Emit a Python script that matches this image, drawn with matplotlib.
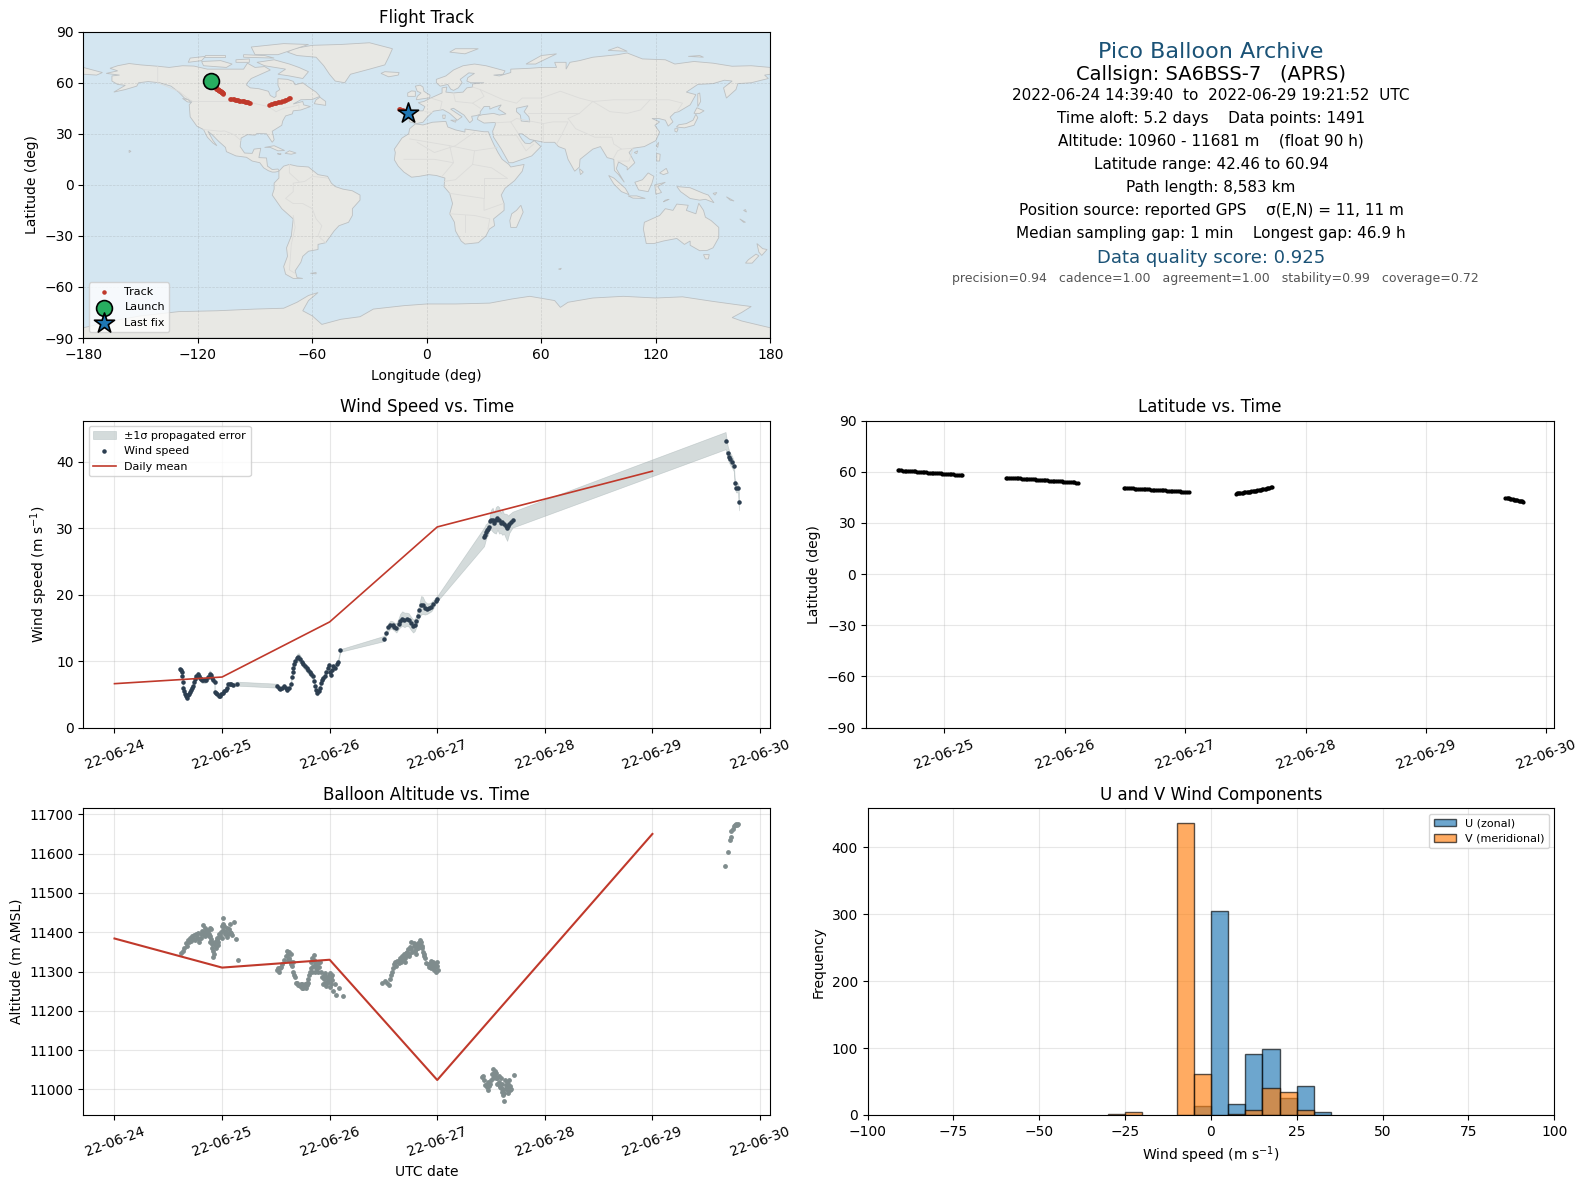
import datetime as dt
import matplotlib
matplotlib.use("Agg")
import matplotlib.dates as mdates
import matplotlib.pyplot as plt
from matplotlib.patches import Polygon
import numpy as np

W, H = 1588, 1189
BASE = mdates.date2num(dt.datetime(2022, 6, 24))

# ---- colours
RED = "#c0392b"
NAVY = "#2c3e50"
GREY = "#7f8c8d"
TITLE_BLUE = "#1a5276"
OCEAN = "#d4e6f1"
LAND = "#e8e8e4"

# ---- wind speed: days after 06-24 00:00, m/s, 1 sigma
wind_seg1 = [(.608, 8.85, .3), (.62, 8.6, .3), (.63, 8.4, .3), (.63, 7.7, .3), (.634, 6.8, .3), (.637, 6, .3),
             (.645, 5.5, .3), (.652, 5, .3), (.662, 4.7, .3), (.672, 4.5, .3), (.682, 4.9, .3), (.692, 5.1, .3),
             (.702, 5.3, .3), (.712, 5.7, .3), (.722, 6, .3), (.732, 6.3, .35), (.742, 6.8, .35), (.752, 7.3, .35),
             (.762, 7.7, .4), (.772, 8, .4), (.782, 7.8, .4), (.792, 7.4, .4), (.802, 7.3, .4), (.812, 7.1, .4),
             (.825, 7.1, .4), (.84, 7.1, .4), (.855, 7.2, .4), (.87, 7.6, .5), (.885, 8.1, .5), (.895, 7.9, .5),
             (.905, 7.5, .4), (.918, 7.2, .4), (.93, 6.8, .3), (.93, 5.4, .3), (.94, 5.2, .3), (.955, 5, .3),
             (.968, 4.8, .3), (.98, 4.7, .3), (.992, 5, .3), (1.005, 5.2, .3), (1.02, 5.5, .3), (1.035, 5.7, .3),
             (1.048, 5.9, .3), (1.054, 6.5, .3), (1.07, 6.6, .3), (1.085, 6.5, .3), (1.10, 6.4, .3), (1.14, 6.6, .3)]
wind_seg2 = [(1.513, 6.3, .3), (1.525, 6, .25), (1.54, 5.8, .25), (1.555, 5.9, .25), (1.575, 6.2, .25), (1.59, 5.9, .25),
             (1.606, 5.6, .25), (1.622, 6, .3), (1.64, 6.5, .3), (1.647, 7.6, .4), (1.655, 8.3, .4), (1.662, 9, .5),
             (1.672, 9.6, .5), (1.682, 10, .6), (1.695, 10.4, .6), (1.71, 10.6, .6), (1.725, 10.3, .6), (1.74, 9.9, .5),
             (1.755, 9.5, .5), (1.77, 9.2, .5), (1.785, 8.9, .5), (1.80, 8.6, .5), (1.815, 8.3, .5), (1.83, 8, .5),
             (1.845, 7.7, .5), (1.855, 7, .4), (1.865, 6.3, .4), (1.875, 5.6, .4), (1.885, 5.2, .4), (1.897, 5.5, .4),
             (1.907, 6, .4), (1.915, 6.7, .4), (1.925, 7.2, .4), (1.94, 7.4, .4), (1.955, 7.8, .4), (1.968, 8.4, .4),
             (1.98, 9, .4), (1.992, 9.4, .4), (2.003, 8.3, .4), (2.012, 7.9, .4), (2.02, 8.7, .4), (2.035, 9.2, .4),
             (2.05, 9, .3), (2.065, 9.5, .3), (2.075, 9.8, .3), (2.10, 11.6, .2)]
wind_seg3 = [(2.505, 13.4, .4), (2.527, 14.3, .4), (2.545, 15.1, .6), (2.565, 15.5, .6), (2.585, 15.4, .6),
             (2.60, 15.2, .6), (2.62, 15, .7), (2.64, 15.6, .8), (2.655, 16.1, 1), (2.675, 16.4, 1.1), (2.695, 16.2, 1.1),
             (2.715, 16.3, 1), (2.735, 16.2, 1), (2.755, 15.7, 1), (2.775, 15.3, 1), (2.79, 15.4, .9),
             (2.805, 16, .9), (2.82, 16.8, .9), (2.835, 17.7, 1.1), (2.85, 18.4, 1.4), (2.865, 18.4, 1.3), (2.885, 18, 1),
             (2.905, 17.9, .8), (2.925, 18, .7), (2.945, 18.2, .7), (2.965, 18.6, .6), (2.985, 19.1, .5), (3.0, 19.4, .4)]
wind_seg4 = [(3.435, 28.7, 1.4), (3.442, 29, 1.3), (3.45, 29.4, 1.2), (3.46, 29.7, 1), (3.47, 29.9, 1), (3.48, 30.2, .8),
             (3.49, 31.1, 1), (3.50, 31.3, 1.5), (3.515, 31.3, 1.8), (3.53, 30.8, 1.5), (3.545, 31.2, 2), (3.56, 31.6, 1.8),
             (3.575, 31.2, 2), (3.59, 30.8, 1.5), (3.605, 30.9, 1.9), (3.62, 30.7, 1.5), (3.635, 30.4, 1.8), (3.65, 30.1, 2),
             (3.66, 30.3, 1.6), (3.67, 30.7, 1.4), (3.685, 31, 1.3), (3.70, 31.3, 1.2)]
wind_seg5 = [(5.68, 43.2, 1.3), (5.70, 41.4, 1), (5.715, 40.7, .9), (5.725, 40.4, .9), (5.74, 40, .9), (5.756, 39.4, .8),
             (5.765, 36.8, .8), (5.778, 36.1, .7), (5.795, 36.1, .7), (5.805, 34, 1.3)]

# ---- daily means (there is no 06-28 value)
mean_days = [0, 1, 2, 3, 5]
mean_wind = [6.6, 7.6, 15.9, 30.2, 38.6]
mean_alt = [11384, 11310, 11330, 11024, 11650]

# ---- track: days, latitude, longitude
track_seg1 = [(.614, 60.94, -113.2), (.64, 60.8, -113.0), (.67, 60.7, -112.9), (.70, 60.55, -112.7), (.73, 60.4, -112.6),
              (.76, 60.2, -112.4), (.79, 60.05, -112.3), (.82, 59.9, -112.1), (.85, 59.7, -112.0), (.88, 59.55, -111.8),
              (.91, 59.4, -111.7), (.94, 59.2, -111.5), (.97, 59.05, -111.4), (1.0, 58.9, -111.3), (1.03, 58.75, -111.1),
              (1.06, 58.6, -111.0), (1.09, 58.4, -110.9), (1.12, 58.2, -110.8), (1.15, 58.0, -110.7)]
track_seg2 = [(1.51, 56.4, -110.4), (1.54, 56.4, -110.2), (1.57, 56.3, -110.0), (1.60, 56.25, -109.8), (1.63, 56.1, -109.6),
              (1.66, 56.0, -109.4), (1.69, 55.85, -109.2), (1.72, 55.7, -109.0), (1.75, 55.55, -108.9), (1.78, 55.4, -108.7),
              (1.81, 55.25, -108.5), (1.84, 55.1, -108.3), (1.87, 54.9, -108.1), (1.90, 54.75, -107.9), (1.93, 54.6, -107.7),
              (1.96, 54.45, -107.5), (1.99, 54.3, -107.3), (2.02, 54.15, -107.1), (2.05, 54.0, -106.9), (2.08, 53.75, -106.8),
              (2.11, 53.55, -106.6)]
track_seg3 = [(2.49, 50.5, -103.0), (2.52, 50.45, -102.4), (2.55, 50.3, -101.8), (2.58, 50.2, -101.2), (2.61, 50.1, -100.6),
              (2.64, 49.95, -100.0), (2.67, 49.8, -99.5), (2.70, 49.65, -98.9), (2.73, 49.5, -98.3), (2.76, 49.4, -97.7),
              (2.79, 49.3, -97.1), (2.82, 49.15, -96.5), (2.85, 49.0, -96.0), (2.88, 48.85, -95.4), (2.91, 48.75, -94.8),
              (2.94, 48.55, -94.2), (2.97, 48.4, -93.6), (3.0, 48.2, -93.2), (3.03, 48.0, -92.8)]
track_seg4 = [(3.42, 47.2, -82.5), (3.44, 47.4, -81.8), (3.46, 47.6, -81.0), (3.48, 47.85, -80.2), (3.50, 48.0, -79.5),
              (3.52, 48.2, -78.8), (3.54, 48.45, -78.0), (3.56, 48.7, -77.2), (3.58, 48.9, -76.5), (3.60, 49.15, -75.8),
              (3.62, 49.4, -75.0), (3.64, 49.7, -74.3), (3.66, 50.0, -73.6), (3.68, 50.4, -72.9), (3.70, 50.8, -72.2),
              (3.72, 51.1, -71.6)]
track_seg5 = [(5.66, 44.8, -14.5), (5.68, 44.6, -14.0), (5.70, 44.2, -13.2), (5.72, 43.9, -12.5), (5.74, 43.6, -11.7),
              (5.76, 43.2, -11.0), (5.78, 42.9, -10.4), (5.80, 42.6, -9.9), (5.81, 42.46, -9.6)]

# extra latitude fixes, only shown in the latitude panel
lat_extra_days = [.627, .655, .685, .715, .745, .775, .805, .835, .865, .895, .925, .955, .985, 1.015, 1.045, 1.075, 1.105, 1.135,
                  1.525, 1.555, 1.585, 1.615, 1.645, 1.675, 1.705, 1.735, 1.765, 1.795, 1.825, 1.855, 1.885, 1.915, 1.945, 1.975,
                  2.005, 2.035, 2.065, 2.095,
                  2.505, 2.535, 2.565, 2.595, 2.625, 2.655, 2.685, 2.715, 2.745, 2.775, 2.805, 2.835, 2.865, 2.895, 2.925, 2.955,
                  2.985, 3.015,
                  3.43, 3.45, 3.47, 3.49, 3.51, 3.53, 3.55, 3.57, 3.59, 3.61, 3.63, 3.65, 3.67, 3.69, 3.71,
                  5.67, 5.69, 5.71, 5.73, 5.75, 5.77, 5.79]
lat_extra = [60.9, 60.7, 60.65, 60.5, 60.35, 60.1, 60.0, 59.85, 59.6, 59.5, 59.3, 59.15, 59.0, 58.8, 58.7, 58.5, 58.3, 58.1,
             56.5, 56.35, 56.3, 56.15, 56.05, 55.9, 55.8, 55.6, 55.5, 55.3, 55.2, 55.0, 54.85, 54.7, 54.5, 54.4,
             54.2, 54.1, 53.9, 53.65,
             50.5, 50.4, 50.25, 50.15, 50.0, 49.9, 49.7, 49.6, 49.45, 49.35, 49.2, 49.1, 48.9, 48.8, 48.65, 48.5,
             48.3, 48.1,
             47.3, 47.5, 47.7, 47.95, 48.1, 48.3, 48.6, 48.8, 49.0, 49.3, 49.55, 49.85, 50.2, 50.6, 50.95,
             44.7, 44.4, 44.05, 43.75, 43.4, 43.05, 42.75]

# ---- altitude scatter: days, metres
alt_days_1 = [.62, .635, .65, .66, .67, .68, .69, .70, .71, .72, .73, .74, .75, .76, .77, .78, .79, .80, .81, .82, .825,
              .83, .84, .85, .86, .87, .875, .885, .89, .90, .90, .905, .91, .915, .92, .93, .94, .945, .955, .965, .975,
              .985, .995, 1.006, 1.012, 1.02, 1.03, 1.04, 1.05, 1.06, 1.07, 1.08, 1.09, 1.11, 1.13, 1.145]
alt_m_1 = [11346, 11352, 11361, 11372, 11365, 11380, 11374, 11386, 11378, 11390, 11384, 11392, 11380, 11395, 11388, 11398,
           11384, 11396, 11402, 11400, 11418, 11392, 11410, 11400, 11395, 11402, 11396, 11412, 11390, 11409, 11384, 11375,
           11361, 11337, 11352, 11367, 11372, 11360, 11380, 11375, 11388, 11392, 11385, 11437, 11422, 11415, 11395, 11401,
           11388, 11408, 11422, 11398, 11392, 11425, 11384, 11330]
alt_days_2 = [1.51, 1.52, 1.53, 1.54, 1.55, 1.56, 1.58, 1.59, 1.60, 1.61, 1.62, 1.63, 1.64, 1.65, 1.66, 1.67, 1.68, 1.69,
              1.70, 1.71, 1.72, 1.73, 1.74, 1.75, 1.76, 1.77, 1.78, 1.79, 1.80, 1.81, 1.82, 1.83, 1.84, 1.85, 1.86, 1.87,
              1.88, 1.89, 1.90, 1.91, 1.92, 1.93, 1.94, 1.95, 1.96, 1.97, 1.98, 1.99, 2.0, 2.01, 2.02, 2.03, 2.05, 2.06,
              2.09, 2.12]
alt_m_2 = [11305, 11310, 11300, 11308, 11312, 11318, 11330, 11340, 11352, 11345, 11335, 11328, 11320, 11315, 11300, 11290,
           11285, 11272, 11270, 11265, 11262, 11268, 11258, 11266, 11260, 11268, 11258, 11270, 11280, 11290, 11300, 11310,
           11335, 11342, 11325, 11318, 11310, 11300, 11312, 11325, 11300, 11285, 11268, 11280, 11270, 11262, 11275, 11290,
           11260, 11285, 11278, 11250, 11268, 11240, 11258, 11238]
alt_days_3 = [2.49, 2.51, 2.53, 2.55, 2.56, 2.57, 2.58, 2.59, 2.60, 2.61, 2.62, 2.63, 2.64, 2.65, 2.66, 2.67, 2.68, 2.69,
              2.70, 2.71, 2.72, 2.73, 2.74, 2.75, 2.76, 2.77, 2.78, 2.79, 2.80, 2.81, 2.82, 2.83, 2.84, 2.85, 2.86, 2.87,
              2.88, 2.89, 2.90, 2.91, 2.92, 2.93, 2.94, 2.95, 2.96, 2.97, 2.98, 2.99, 3.0, 3.01]
alt_m_3 = [11272, 11275, 11270, 11266, 11280, 11292, 11300, 11308, 11318, 11325, 11315, 11328, 11322, 11335, 11325, 11340,
           11330, 11345, 11335, 11348, 11342, 11358, 11345, 11362, 11375, 11350, 11365, 11352, 11358, 11368, 11372, 11362,
           11370, 11375, 11360, 11350, 11345, 11335, 11322, 11318, 11312, 11320, 11328, 11315, 11318, 11305, 11312, 11300,
           11315, 11305]
alt_days_4 = [3.42, 3.435, 3.45, 3.47, 3.48, 3.49, 3.50, 3.52, 3.53, 3.54, 3.55, 3.56, 3.575, 3.585, 3.59, 3.60, 3.61, 3.62,
              3.63, 3.64, 3.65, 3.66, 3.67, 3.68, 3.71]
alt_m_4 = [11032, 11024, 11011, 10998, 11008, 11015, 11025, 11051, 11042, 11035, 11041, 11030, 11020, 11010, 11003, 10994,
           10985, 10971, 11024, 11012, 11000, 11015, 11005, 10998, 11036]
alt_days_5 = [5.676, 5.70, 5.72, 5.727, 5.735, 5.745, 5.755, 5.765, 5.775, 5.785, 5.797]
alt_m_5 = [11568, 11605, 11635, 11642, 11658, 11662, 11670, 11672, 11675, 11674, 11676]
alt_days_6 = [.79, .80, .84, .86, .88, .89, .91, .925, .935, .95, .96, .97, .99, 1.0, 1.01, 1.025, 1.045, 1.055, 1.075,
              1.74, 1.745, 1.755, 1.765, 1.775, 1.785, 1.795, 1.83, 1.835, 1.845, 1.855, 1.865, 1.875, 1.895, 1.945, 1.955,
              1.965, 1.975, 1.985, 2.0, 2.005, 2.015, 2.025, 1.64, 1.655, 1.625, 1.615,
              2.65, 2.68, 2.70, 2.72, 2.74, 2.76, 2.78, 2.80, 2.82, 2.84, 2.86, 2.88, 2.94, 2.96, 2.975, 2.995,
              3.43, 3.44, 3.46, 3.475, 3.51, 3.515, 3.525, 3.535, 3.55, 3.56, 3.57, 3.58, 3.595, 3.605, 3.615, 3.625, 3.635,
              3.645, 3.655, 3.665, 3.675, 3.685, 3.645]
alt_m_6 = [11375, 11385, 11390, 11405, 11390, 11375, 11370, 11345, 11375, 11385, 11368, 11395, 11400, 11415, 11405, 11400,
           11410, 11395, 11400,
           11268, 11262, 11258, 11264, 11262, 11266, 11272, 11325, 11300, 11315, 11330, 11300, 11308, 11322, 11290, 11295,
           11285, 11270, 11282, 11295, 11275, 11268, 11290, 11345, 11325, 11350, 11330,
           11330, 11338, 11325, 11350, 11340, 11358, 11372, 11345, 11360, 11380, 11365, 11340, 11310, 11325, 11318, 11325,
           11035, 11012, 11005, 11018, 11040, 11030, 11035, 11048, 11030, 11015, 11035, 11005, 11030, 11015, 11000, 10992,
           11000, 11020, 10990, 11025, 11010, 11000, 11005]

# ---- histogram: counts per 5 m/s bin, left bin edges
u_edges = [-5, 0, 5, 10, 15, 20, 25, 30]
u_counts = [13, 305, 16, 91, 98, 25, 43, 5]
v_edges = [-30, -25, -10, -5, 5, 10, 15, 20, 25]
v_counts = [2, 4, 436, 61, 1, 7, 40, 34, 8]

# ---- land outlines, lon/lat
north_america = [(-168, 65.5), (-164, 66.5), (-162, 67), (-166, 68.5), (-162, 70), (-156, 71.3), (-150, 70.5), (-141, 69.7),
                 (-135, 69), (-128, 70), (-122, 69.8), (-115, 68), (-108, 68), (-100, 68), (-96, 68), (-94, 71.5), (-90, 69),
                 (-85, 69.5), (-82, 67.5), (-87, 65), (-92, 62.5), (-94, 60), (-94.5, 58.7), (-92.5, 57), (-88, 56.5),
                 (-83, 55), (-82, 52.5), (-80, 51.3), (-79, 52), (-79, 54.5), (-77, 56), (-78, 58.5), (-78, 62.4), (-73, 62),
                 (-70, 60.8), (-69, 58.8), (-65, 60), (-62, 57.5), (-58, 54.5), (-56, 52), (-60, 50.2), (-66, 50), (-70, 47.5),
                 (-65, 49), (-64.5, 47), (-61, 46), (-66, 44), (-70, 43.5), (-70.5, 41.7), (-74, 40.5), (-75.5, 37.5), (-76, 35),
                 (-81, 31.5), (-80, 26.5), (-81, 25), (-82.8, 28), (-84, 30), (-89, 30.2), (-90, 29.2), (-94, 29.5), (-97.3, 27.5),
                 (-97.8, 22.5), (-95.5, 18.7), (-91.5, 18.5), (-90.5, 21), (-87, 21.5), (-88, 16), (-84, 15.8), (-83.5, 11),
                 (-81, 9), (-78, 9.3), (-77.3, 8), (-79.5, 7.5), (-81, 7.5), (-83, 8.3), (-85.5, 10), (-87.5, 13), (-91.5, 14),
                 (-94.5, 16.2), (-100, 17), (-105, 19.5), (-105.5, 22), (-109, 25.5), (-112.5, 29.5), (-114.7, 31.5), (-112, 26),
                 (-110, 23), (-112, 24.5), (-115, 28), (-117, 32.5), (-120.5, 34.5), (-124, 40), (-124.5, 47), (-123, 49),
                 (-127, 51), (-130, 54.5), (-134, 58), (-140, 60), (-146, 60.7), (-151, 60), (-152, 58), (-158, 56), (-164, 54.5),
                 (-158, 58.5), (-162, 59), (-165, 61), (-165, 64), (-161, 64.5)]
south_america = [(-77.5, 8), (-75, 11), (-72, 12), (-68, 11), (-62, 10.5), (-57, 6), (-52, 5), (-50, 1), (-48, -1), (-44, -2.5),
                 (-39, -3.5), (-35, -6), (-35, -9), (-39, -14), (-39, -18), (-41, -22), (-46, -24), (-48.5, -27), (-53, -34),
                 (-57, -35), (-57, -38), (-62, -39), (-65, -42), (-66, -45.5), (-69, -50.5), (-68, -54.5), (-65, -55), (-70, -55),
                 (-74, -52.5), (-75, -48), (-73, -42), (-73.5, -37), (-71, -30), (-70, -20), (-76, -14), (-81, -6), (-80, -2.5),
                 (-80, 1), (-77.5, 4)]
africa = [(-17, 14.7), (-16.5, 19), (-17, 21), (-13, 27.5), (-9.5, 30), (-9, 33), (-6, 35.8), (-2, 35.2), (3, 36.8), (10, 37.3),
          (11, 34), (15, 32.3), (20, 31), (20, 32.8), (25, 32), (30, 31.2), (32.3, 31.2), (33, 29), (35, 24), (37.3, 19),
          (39.5, 15), (43, 12), (44, 10.5), (51, 12), (50, 8), (46, 2.5), (41, -2), (39, -6), (40.5, -11), (40.5, -15), (35, -20),
          (35.5, -24), (32.8, -26), (31, -30), (27, -34), (20, -34.8), (18, -33), (15, -27), (14.5, -22), (12, -17), (13.5, -11),
          (12, -5), (9, -1), (9.5, 4), (5, 5.5), (1, 6), (-4, 5), (-8, 4.5), (-12, 7.5), (-15, 11)]
eurasia = [(-9, 37), (-9.5, 39), (-9, 43.3), (-2, 43.5), (-1, 46), (-4.5, 48.3), (-1.5, 49), (2, 51), (4, 52), (8, 54), (8, 57),
           (10.5, 57.5), (10, 54.5), (14, 54), (19, 54.5), (21, 57), (24, 57.5), (24, 59.3), (30, 60), (23, 60), (21, 61),
           (21.5, 63), (25, 65.5), (22, 65.8), (17.5, 62), (18.5, 60), (16.5, 57), (14, 55.5), (12.5, 56.3), (11, 59), (7, 58),
           (5, 60), (5, 62), (10, 64), (14, 67.5), (19, 70), (25, 71), (31, 70), (41, 67), (40, 65), (35, 64.5), (38, 64), (44, 66),
           (44, 68), (54, 68.5), (60, 69), (68, 69), (67, 72), (73, 72), (73, 68), (75, 72), (80, 73), (87, 75), (100, 76.5),
           (105, 77.5), (113, 74), (125, 73.5), (130, 71), (140, 72.5), (150, 71.5), (160, 69.7), (170, 70), (180, 69), (180, 65),
           (177, 64.5), (179, 62.5), (170, 60), (163, 59.5), (162, 56), (157, 51), (155.5, 57), (160, 61), (156, 61.5), (150, 59.5),
           (142, 59), (136, 54.5), (141, 53), (138, 47), (132, 43), (130, 42.5), (127.5, 39.8), (129, 37), (126.5, 34.5), (125, 38),
           (121.5, 39), (118, 39), (122, 37), (119.5, 35), (122, 31), (120, 26), (114, 22.5), (108, 21.5), (106, 19), (109, 13),
           (105, 8.7), (105, 10.5), (100.5, 13.5), (99.3, 9.5), (103.5, 1.5), (100.5, 6), (98.3, 8.5), (98, 15), (94.5, 16),
           (91, 22.5), (87, 21), (80.3, 15), (80, 10.5), (77.5, 8), (74, 15), (72.5, 21), (69, 22.5), (67, 25), (61.5, 25), (57, 26),
           (54, 26.7), (50, 30), (48, 30), (50, 26.5), (51.5, 24.5), (54, 24.2), (56.3, 26), (59.8, 22.5), (55, 17), (45, 13),
           (43, 13), (39, 21), (35, 28), (34.5, 31.5), (35.8, 35), (36, 36.7), (30, 36.3), (26.5, 38.5), (27, 40.5), (29, 41.2),
           (35, 42), (38, 41), (41.5, 41.7), (37.5, 44.5), (39, 47), (35, 45.5), (33, 44.5), (33, 46), (30, 46), (28, 43), (28, 41.5),
           (26, 40.7), (23.5, 40.3), (24, 38), (22.5, 36.5), (19.5, 41), (14, 45), (12.5, 44.5), (18.5, 40), (16, 38), (12, 42),
           (8.5, 44.2), (3.5, 43.3), (0, 39.5), (-2, 36.8), (-5.5, 36)]
australia = [(114, -22), (113.5, -26), (115, -34.5), (119, -34.5), (124, -33), (131, -31.5), (135, -35), (138, -33), (138, -35.5),
             (143, -38.7), (147, -38.5), (150, -37), (153, -31), (153, -25), (149, -21), (146, -19), (145, -15), (142.5, -10.8),
             (141, -17), (136, -15), (137, -12), (131, -11.3), (129, -15), (125, -14), (122, -18), (117, -20.5)]
antarctica = [(-180, -90), (-180, -84), (-165, -80), (-150, -77), (-130, -74.5), (-110, -74), (-90, -73), (-75, -72.5), (-68, -69),
              (-62, -65), (-57, -63.3), (-62, -68), (-65, -74), (-60, -77), (-55, -82), (-45, -79), (-35, -77.5), (-28, -73),
              (-12, -71), (0, -70), (15, -70), (33, -69.5), (45, -67), (54, -65.5), (67, -68), (70, -72), (74, -69), (87, -66.5),
              (103, -65.5), (120, -66.5), (134, -65.8), (150, -68.5), (163, -70.5), (170, -71.5), (165, -75), (160, -78), (165, -80),
              (180, -84), (180, -90)]
greenland = [(-73, 78), (-68, 76), (-58, 75), (-54, 70), (-51, 65), (-48, 61), (-43, 60), (-40, 65), (-30, 68), (-22, 70.5),
             (-20, 75), (-18, 80), (-30, 83.5), (-45, 82.5), (-60, 82), (-70, 80)]
small_islands = [
    [(-80, 73.5), (-72, 71), (-67, 69), (-62, 66.5), (-65, 62.5), (-72, 64), (-78, 65), (-74, 68), (-85, 70), (-89, 72)],
    [(-117, 70), (-105, 69), (-102, 71), (-108, 73), (-118, 72.5)],
    [(-90, 76.5), (-78, 76.5), (-62, 82.5), (-75, 83), (-92, 81)],
    [(-125, 72), (-118, 73), (-116, 75.5), (-124, 74.5)],
    [(-96, 75), (-80, 74.5), (-85, 76), (-96, 76.5)],
    [(-117, 75), (-106, 75), (-106, 76.5), (-116, 76.5)],
    [(-100, 72), (-93, 72), (-93, 74), (-100, 73.5)],
    [(-59, 47.7), (-53, 46.7), (-53, 49), (-56, 51.5), (-58, 50)],
    [(-128, 50.8), (-125, 50), (-123.5, 48.4), (-125.5, 48.8)],
    [(-85, 22), (-80, 23), (-74.5, 20.2), (-78, 20), (-82, 22)],
    [(-74.3, 18.5), (-72, 20), (-68.5, 18.7), (-71, 18)],
    [(-78.3, 18.3), (-76.3, 18.2), (-77, 17.8)],
    [(-156, 19), (-155, 19.7), (-156, 20.3)],
    [(-61, -52), (-58, -51.5), (-58, -52.3)],
    [(49.3, -12), (50.5, -16), (47, -25), (44, -25), (43.5, -21), (44.5, -17), (47, -15)],
    [(-5.5, 50), (1.5, 51.2), (1.7, 52.7), (-1.5, 55), (-2, 57.5), (-3.5, 58.6), (-6, 58), (-5, 55), (-3, 54), (-5, 52)],
    [(-10, 52), (-6, 52), (-6, 55), (-8, 55.2), (-10, 54)],
    [(-24, 65.5), (-20, 63.5), (-15, 64.5), (-14.5, 66), (-22, 66.5)],
    [(12, 78), (20, 77), (27, 80), (15, 80)],
    [(52, 71), (57, 71), (68, 77), (60, 76)],
    [(12.5, 38), (15.5, 38), (15, 36.8)],
    [(8.3, 41), (9.7, 41), (9.5, 39), (8.5, 39)],
    [(80, 9.5), (82, 7.5), (80.5, 6)],
    [(95.3, 5.5), (98, 4), (104, -2), (106, -5.8), (102, -4), (98, 0.5)],
    [(105.5, -6.5), (110, -6.5), (114.5, -8), (108, -7.8)],
    [(109, 1.5), (113, 3), (116, 7), (119, 5), (118, 1), (116, -4), (111, -3)],
    [(119.5, 0), (125, 1.5), (121, -1), (123, -4.5), (120, -5.5)],
    [(120.5, 18.5), (122.3, 18), (122, 14), (120.5, 14)],
    [(122, 7), (125.5, 9.7), (126.5, 7), (124, 6)],
    [(131, -1), (138, -1.7), (145, -5), (147.5, -6), (150.5, -10.5), (146, -8.5), (143, -9), (138, -8), (133, -4)],
    [(124, -10), (127, -8.5), (125, -9)],
    [(145, -41), (148, -41), (147.5, -43.5), (146, -43.5)],
    [(173, -34.5), (176, -37.5), (178.3, -38), (175.5, -41.5), (174, -39.5)],
    [(172.5, -40.7), (174, -41.7), (170.5, -46), (167, -46), (168.5, -44)],
    [(130.8, 34), (135, 33.5), (140, 35), (142, 39.5), (141, 41.5), (139.5, 38), (136, 36), (132, 35.3)],
    [(140, 42), (141.5, 45.3), (145.3, 43.5), (143, 42)],
    [(130, 33), (131.7, 33), (131, 31), (130, 31.5)],
    [(142, 46), (143.5, 49), (143, 54), (142, 53.5)],
    [(120.2, 23), (121.5, 25), (121, 22)],
    [(108.7, 19), (110.5, 20), (110, 18.3)],
    [(69, -49.5), (70.5, -49), (70, -49.8)],
    [(137, 75.5), (145, 75), (143, 76)],
    [(95, 79), (105, 78.5), (100, 81)],
    [(-180, 65), (-173, 64.5), (-170, 66), (-175, 67.5), (-180, 69)],
    [(150, -5), (152, -4.5), (151, -6)],
    [(157, -7), (161, -9.5), (159, -9)],
    [(166, -15), (167.5, -16), (167, -14.5)],
    [(164, -20), (167, -22), (166, -22)],
]
caspian = [(47, 45), (53, 46.5), (51, 43), (53.5, 40), (54, 37), (49.5, 37.5), (49, 41), (47, 43)]
borders = [
    [(-141, 69.7), (-141, 60), (-130, 55), (-123, 49), (-95, 49), (-83, 46), (-79, 43), (-75, 45), (-70, 46), (-67, 47), (-67, 45)],
    [(-117, 32.5), (-108, 31.5), (-106, 31.7), (-101, 29.5), (-97.3, 26)],
    [(-52, 4), (-60, 5), (-64, 2), (-70, 1), (-70, -4), (-74, -8), (-70, -11), (-65, -11), (-60, -14), (-58, -20), (-55, -24), (-57, -30), (-53, -34)],
    [(-70, -18), (-69, -25), (-71, -35), (-72, -50), (-69, -52)],
    [(-72, 12), (-72, 7), (-67, 2)],
    [(-9, 27), (12, 23), (25, 20), (24, 12), (34, 10), (42, 4)],
    [(-5, 25), (4, 19), (15, 23), (25, 31)],
    [(12, 23), (14, 13), (8, 5)],
    [(25, 20), (37, 22)],
    [(-12, 15), (4, 15), (14, 13)],
    [(24, 12), (15, 3), (9, 2)],
    [(12, -5), (30, -8), (30, -15), (40, -11)],
    [(12, -17), (25, -18), (33, -20), (32, -26)],
    [(20, -28), (20, -18)],
    [(30, -8), (30, 4), (42, 4)],
    [(28, 56), (40, 50), (47, 48), (50, 51), (60, 51), (70, 55), (80, 51), (87, 49), (98, 50), (108, 50), (117, 50), (127, 50), (134, 48), (131, 43)],
    [(87, 49), (96, 43), (105, 42), (112, 44), (117, 50)],
    [(87, 49), (80, 42), (74, 39), (78, 33), (88, 28), (97, 28), (98, 24), (102, 21), (108, 21.5)],
    [(-1, 43), (3, 42.5)],
    [(2, 51), (8, 49), (7, 44)],
    [(14, 54), (15, 49), (24, 48), (28, 45)],
    [(24, 48), (30, 52), (28, 56)],
    [(24, 57.5), (28, 56)],
    [(36, 36.5), (44, 37), (48, 30)],
    [(44, 37), (47, 39), (61, 36), (61, 25)],
    [(61, 36), (66, 37), (74, 37), (70, 28), (68, 24)],
    [(35, 29), (47, 29), (52, 20), (56, 24)],
    [(53, 42), (70, 42), (80, 42)],
    [(98, 16), (100, 20), (102, 21)],
    [(100, 14), (106, 14), (108, 21)],
]

# ---- header text: (y pixel, string, size, colour)
header_lines = [
    (52, "Pico Balloon Archive", 16, TITLE_BLUE),
    (74.5, "Callsign: SA6BSS-7   (APRS)", 14, "black"),
    (95.5, "2022-06-24 14:39:40  to  2022-06-29 19:21:52  UTC", 11, "black"),
    (118.5, "Time aloft: 5.2 days    Data points: 1491", 11, "black"),
    (141.5, "Altitude: 10960 - 11681 m    (float 90 h)", 11, "black"),
    (164.5, "Latitude range: 42.46 to 60.94", 11, "black"),
    (187.5, "Path length: 8,583 km", 11, "black"),
    (210.5, "Position source: reported GPS    \u03c3(E,N) = 11, 11 m", 11, "black"),
    (233.5, "Median sampling gap: 1 min    Longest gap: 46.9 h", 11, "black"),
    (258, "Data quality score: 0.925", 13, TITLE_BLUE),
]
score_parts = "precision=0.94   cadence=1.00   agreement=1.00   stability=0.99   coverage=0.72"


def panel(fig, left, right, top, bottom):
    return fig.add_axes([left / W, 1 - bottom / H, (right - left) / W, (bottom - top) / H])


def to_dates(days):
    return BASE + np.asarray(days, dtype=float)


def date_axis(ax):
    ax.xaxis_date()
    ax.xaxis.set_major_locator(mdates.DayLocator())
    ax.xaxis.set_major_formatter(mdates.DateFormatter("%y-%m-%d"))
    ax.tick_params(axis="x", rotation=20)
    ax.grid(True, alpha=0.3)
    ax.set_axisbelow(True)


fig = plt.figure(figsize=(W / 100, H / 100), dpi=100)
ax_map = panel(fig, 83.3, 770.3, 31.7, 338)
ax_txt = panel(fig, 866, 1554.3, 31.7, 338)
ax_wind = panel(fig, 83.3, 770.3, 420.7, 727.5)
ax_lat = panel(fig, 866, 1554.3, 420.7, 727.5)
ax_alt = panel(fig, 83.3, 770.3, 808.4, 1115)
ax_hist = panel(fig, 867.5, 1554.3, 808.4, 1115)

track = np.array(track_seg1 + track_seg2 + track_seg3 + track_seg4 + track_seg5)
wind = np.array(wind_seg1 + wind_seg2 + wind_seg3 + wind_seg4 + wind_seg5)
alt_days = alt_days_1 + alt_days_2 + alt_days_3 + alt_days_4 + alt_days_5 + alt_days_6
alt_m = alt_m_1 + alt_m_2 + alt_m_3 + alt_m_4 + alt_m_5 + alt_m_6

# flight track ------------------------------------------------
ax_map.set_facecolor(OCEAN)
for shape in [north_america, south_america, africa, eurasia, australia, antarctica, greenland] + small_islands:
    ax_map.add_patch(Polygon(shape, closed=True, facecolor=LAND, edgecolor="#bcc0c2", lw=0.6, zorder=1))
ax_map.add_patch(Polygon(caspian, closed=True, facecolor=OCEAN, edgecolor="#bcc0c2", lw=0.6, zorder=1.5))
for line in borders:
    xy = np.array(line)
    ax_map.plot(xy[:, 0], xy[:, 1], color="#dcdcda", lw=0.6, zorder=1.6)
ax_map.grid(True, color="gray", ls="--", lw=0.5, alpha=0.25, zorder=2)
ax_map.scatter(track[:, 2], track[:, 1], s=5, color=RED, zorder=3, label="Track")
ax_map.scatter(track[0, 2], track[0, 1], s=130, color="#27ae60", edgecolor="black", lw=1.2, zorder=4, label="Launch")
ax_map.scatter(track[-1, 2], track[-1, 1], s=230, marker="*", color="#1f77b4", edgecolor="black", lw=1.2, zorder=5, label="Last fix")
ax_map.set_xlim(-180, 180)
ax_map.set_ylim(-90, 90)
ax_map.set_xticks(np.arange(-180, 181, 60))
ax_map.set_yticks(np.arange(-90, 91, 30))
ax_map.set_xlabel("Longitude (deg)", labelpad=5)
ax_map.set_ylabel("Latitude (deg)")
ax_map.set_title("Flight Track", fontsize=12)
ax_map.legend(loc="lower left", fontsize=8)

# header panel ------------------------------------------------
ax_txt.axis("off")
ax_txt.set_xlim(0, 688.3)
ax_txt.set_ylim(338, 31.7)
for y_px, text, size, colour in header_lines:
    ax_txt.text(345, y_px, text, fontsize=size, color=colour, ha="center", va="center")
ax_txt.text(349, 279, score_parts, fontsize=9, color="#555555", ha="center", va="center")

# wind speed --------------------------------------------------
ax_wind.fill_between(to_dates(wind[:, 0]), wind[:, 1] - wind[:, 2], wind[:, 1] + wind[:, 2],
                     color="#95a5a6", alpha=0.4, lw=0.5, label="\u00b11\u03c3 propagated error")
ax_wind.scatter(to_dates(wind[:, 0]), wind[:, 1], s=5, color=NAVY, zorder=3, label="Wind speed")
ax_wind.plot(to_dates(mean_days), mean_wind, color=RED, lw=1.2, zorder=4, label="Daily mean")
date_axis(ax_wind)
ax_wind.set_xlim(BASE - 0.29, BASE + 6.096)
ax_wind.set_ylim(0, 46.2)
ax_wind.set_yticks([0, 10, 20, 30, 40])
ax_wind.set_ylabel("Wind speed (m s$^{-1}$)")
ax_wind.set_title("Wind Speed vs. Time", fontsize=12)
ax_wind.legend(loc="upper left", fontsize=8)

# latitude ----------------------------------------------------
ax_lat.scatter(to_dates(track[:, 0]), track[:, 1], s=4, color="black", zorder=3)
ax_lat.scatter(to_dates(lat_extra_days), lat_extra, s=4, color="black", zorder=3)
date_axis(ax_lat)
ax_lat.set_xlim(BASE + 0.35, BASE + 6.066)
ax_lat.set_ylim(-90, 90)
ax_lat.set_yticks(np.arange(-90, 91, 30))
ax_lat.set_ylabel("Latitude (deg)")
ax_lat.set_title("Latitude vs. Time", fontsize=12)

# altitude ----------------------------------------------------
ax_alt.scatter(to_dates(alt_days), alt_m, s=6, color=GREY, zorder=3)
ax_alt.plot(to_dates(mean_days), mean_alt, color=RED, lw=1.5, zorder=4)
date_axis(ax_alt)
ax_alt.set_xlim(BASE - 0.29, BASE + 6.096)
ax_alt.set_ylim(10935, 11715)
ax_alt.set_xlabel("UTC date")
ax_alt.set_ylabel("Altitude (m AMSL)")
ax_alt.set_title("Balloon Altitude vs. Time", fontsize=12)

# U/V histogram -----------------------------------------------
ax_hist.bar(u_edges, u_counts, width=5, align="edge", color="#1f77b4", edgecolor="black", alpha=0.65, label="U (zonal)")
ax_hist.bar(v_edges, v_counts, width=5, align="edge", color="#ff7f0e", edgecolor="black", alpha=0.65, label="V (meridional)")
ax_hist.grid(True, alpha=0.3)
ax_hist.set_axisbelow(True)
ax_hist.set_xlim(-100, 100)
ax_hist.set_ylim(0, 457.8)
ax_hist.set_xlabel("Wind speed (m s$^{-1}$)")
ax_hist.set_ylabel("Frequency")
ax_hist.set_title("U and V Wind Components", fontsize=12)
ax_hist.legend(loc="upper right", fontsize=8)

fig.savefig("out.png", dpi=100)
